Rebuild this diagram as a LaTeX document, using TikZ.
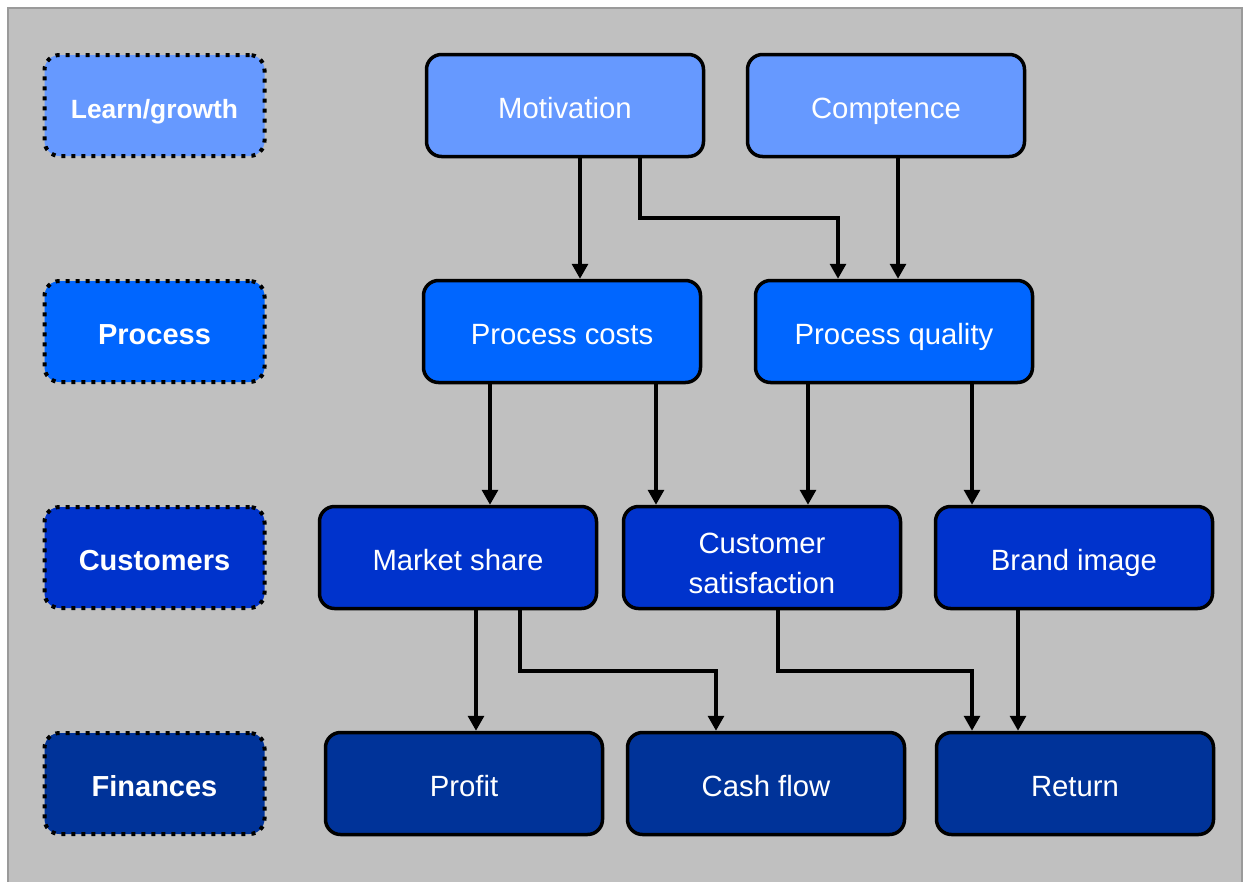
\documentclass[tikz,border=0pt]{standalone}
\usepackage{fontspec}
\setmainfont{Liberation Sans}
\usetikzlibrary{arrows.meta}
\definecolor{bgGray}{HTML}{C0C0C0}
\definecolor{frameGray}{HTML}{9A9A9A}
\definecolor{learnBlue}{HTML}{6699FF}
\definecolor{procBlue}{HTML}{0066FF}
\definecolor{custBlue}{HTML}{0033CC}
\definecolor{finBlue}{HTML}{003399}
\tikzset{
  boxtext/.style={text=white, font=\fontsize{29.3}{39.4}\selectfont, align=center},
  box/.style={draw=black, line width=3.5pt, rounded corners=15pt,
    minimum width=277pt, minimum height=102pt, inner sep=0pt,
    text height=26.4pt, text depth=0pt, boxtext},
  levelbox/.style={draw=black, line width=4pt, dash pattern=on 4pt off 6pt,
    rounded corners=15pt, minimum width=220pt, minimum height=101pt,
    inner sep=0pt, text height=26.4pt, text depth=0pt,
    text=white, font=\fontsize{29}{39.4}\selectfont\bfseries},
  link/.style={line width=3.2pt, -{Triangle[length=15pt,width=16pt]}},
}
\begin{document}
\begin{tikzpicture}[x=1pt, y=-1pt]
  \useasboundingbox (0,0) rectangle (1244,881);
  % backdrop
  \draw[fill=bgGray, draw=frameGray, line width=2pt] (8,8) rectangle (1242,895);

  % level labels
  \node[levelbox, fill=learnBlue, font=\fontsize{26.4}{32}\selectfont\bfseries, text height=25pt]
    (lvlLearn) at (154.5,105.5) {Learn/growth};
  \node[levelbox, fill=procBlue]  (lvlProc)  at (154.5,331.5) {Process};
  \node[levelbox, fill=custBlue]  (lvlCust)  at (154.5,557.5) {Customers};
  \node[levelbox, fill=finBlue]   (lvlFin)   at (154.5,783.5) {Finances};

  % learn / growth
  \node[box, fill=learnBlue] (mot)  at (565,105.5) {Motivation};
  \node[box, fill=learnBlue] (comp) at (886,105.5) {Comptence};
  % process
  \node[box, fill=procBlue] (pcost) at (562,331.5) {Process costs};
  \node[box, fill=procBlue] (pqual) at (894,331.5) {Process quality};
  % customers
  \node[box, fill=custBlue] (mshare) at (458,557.5) {Market share};
  \node[box, fill=custBlue] (csat)   at (762,557.5) {};
  \node[boxtext] (csatText) at ([yshift=-6pt]csat.center) {Customer\\satisfaction};
  \node[box, fill=custBlue] (brand)  at (1074,557.5) {Brand image};
  % finances
  \node[box, fill=finBlue] (profit) at (464,783.5) {Profit};
  \node[box, fill=finBlue] (cash)   at (766,783.5) {Cash flow};
  \node[box, fill=finBlue] (ret)    at (1075,783.5) {Return};

  % links
  \draw[link] (mot.south -| 580,0) -- (pcost.north -| 580,0);
  \draw[link] (mot.south -| 640,0) |- (838,218) -- (pqual.north -| 838,0);
  \draw[link] (comp.south -| 898,0) -- (pqual.north -| 898,0);

  \draw[link] (pcost.south -| 490,0) -- (mshare.north -| 490,0);
  \draw[link] (pcost.south -| 656,0) -- (csat.north -| 656,0);
  \draw[link] (pqual.south -| 808,0) -- (csat.north -| 808,0);
  \draw[link] (pqual.south -| 972,0) -- (brand.north -| 972,0);

  \draw[link] (mshare.south -| 476,0) -- (profit.north -| 476,0);
  \draw[link] (mshare.south -| 520,0) |- (716,671) -- (cash.north -| 716,0);
  \draw[link] (csat.south -| 778,0) |- (972,671) -- (ret.north -| 972,0);
  \draw[link] (brand.south -| 1018,0) -- (ret.north -| 1018,0);
\end{tikzpicture}
\end{document}
